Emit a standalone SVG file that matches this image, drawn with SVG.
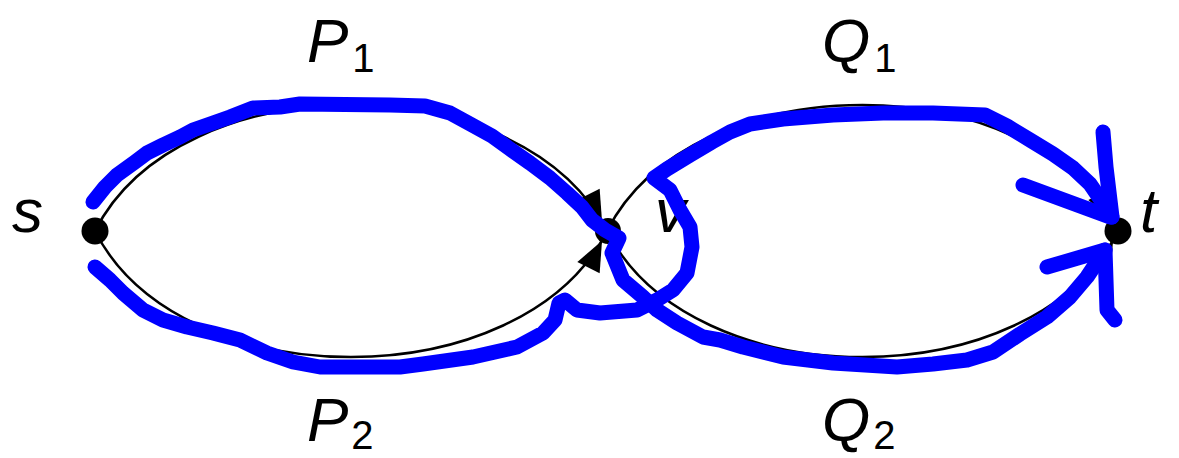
<svg xmlns="http://www.w3.org/2000/svg" width="1179" height="458" viewBox="0 0 1179 458">
<style>
.arc{fill:none;stroke:#000;stroke-width:2.5}
.dot{fill:#000}
.blue{fill:none;stroke:#0000ff;stroke-width:15;stroke-linecap:round;stroke-linejoin:round}
.lbl{font-family:"Liberation Sans",Arial,Helvetica,sans-serif;font-style:italic;font-size:62px;fill:#000}
.sub{font-size:40px;font-style:normal}
</style>
<defs>
<marker id="arr" markerUnits="userSpaceOnUse" markerWidth="60" markerHeight="30" refX="41" refY="0" orient="auto" viewBox="-5 -15 60 30" overflow="visible">
<path d="M0,-12.5 L30,0 L0,12.5 Z" fill="#000"/>
</marker>
</defs>
<g id="connectors">
<path class="arc" d="M95,231 C180,63 522,63 607,231" marker-end="url(#arr)"/>
<path class="arc" d="M95,231 C180,399 522,399 607,231" marker-end="url(#arr)"/>
<path class="arc" d="M607,231 C692,63 1033,63 1118,231" marker-end="url(#arr)"/>
<path class="arc" d="M607,231 C692,399 1033,399 1118,231" marker-end="url(#arr)"/>
</g>
<g id="node-s"><circle class="dot" cx="95" cy="231" r="13.5"/><text class="lbl" x="12" y="232">s</text></g>
<g id="node-v"><circle class="dot" cx="608" cy="231" r="13"/><text class="lbl" x="655" y="232">v</text></g>
<g id="node-t"><circle class="dot" cx="1118" cy="231" r="13.5"/><text class="lbl" x="1140" y="232">t</text></g>
<g id="blue-paths">
<polyline class="blue" points="93,202 105,187 117,175 135,162 147,153 163,145 180,137 193,130 213,123 230,117 253,108 280,107 300,104 390,105 425,106 450,113 472,125 492,136 510,149 530,163 550,178 567,193 582,207 592,220 605,230 619,238 612,253 623,280 643,297 657,310 677,323 703,337 720,340 743,347 783,357 833,363 897,367 933,364 967,360 993,352 1020,334 1047,317 1070,297 1087,277 1105,250"/>
<polyline class="blue" points="1047,267 1105,250 1107,310 1115,320"/>
<polyline class="blue" points="95,267 110,280 123,293 143,310 163,320 187,327 213,333 240,340 267,353 293,362 320,367 400,367 423,364 473,357 517,347 543,333 555,320 559,303 565,300 577,310 600,313 637,310 657,300 673,290 687,273 692,247 690,227 680,210 670,190 658,181 654,178 667,169 690,155 712,142 730,132 750,124 783,119 833,115 883,113 933,113 985,115 1007,126 1030,140 1053,154 1073,168 1090,184 1105,206 1112,217"/>
<polyline class="blue" points="1023,185 1110,217"/>
<polyline class="blue" points="1103,132 1106,167 1112,217"/>
</g>
<g id="labels">
<text class="lbl" x="307" y="62">P<tspan class="sub" dx="4" dy="10">1</tspan></text>
<text class="lbl" x="307" y="441">P<tspan class="sub" dx="3" dy="8">2</tspan></text>
<text class="lbl" x="822" y="62">Q<tspan class="sub" dx="4" dy="10">1</tspan></text>
<text class="lbl" x="822" y="441">Q<tspan class="sub" dx="3" dy="8">2</tspan></text>
</g>
</svg>
